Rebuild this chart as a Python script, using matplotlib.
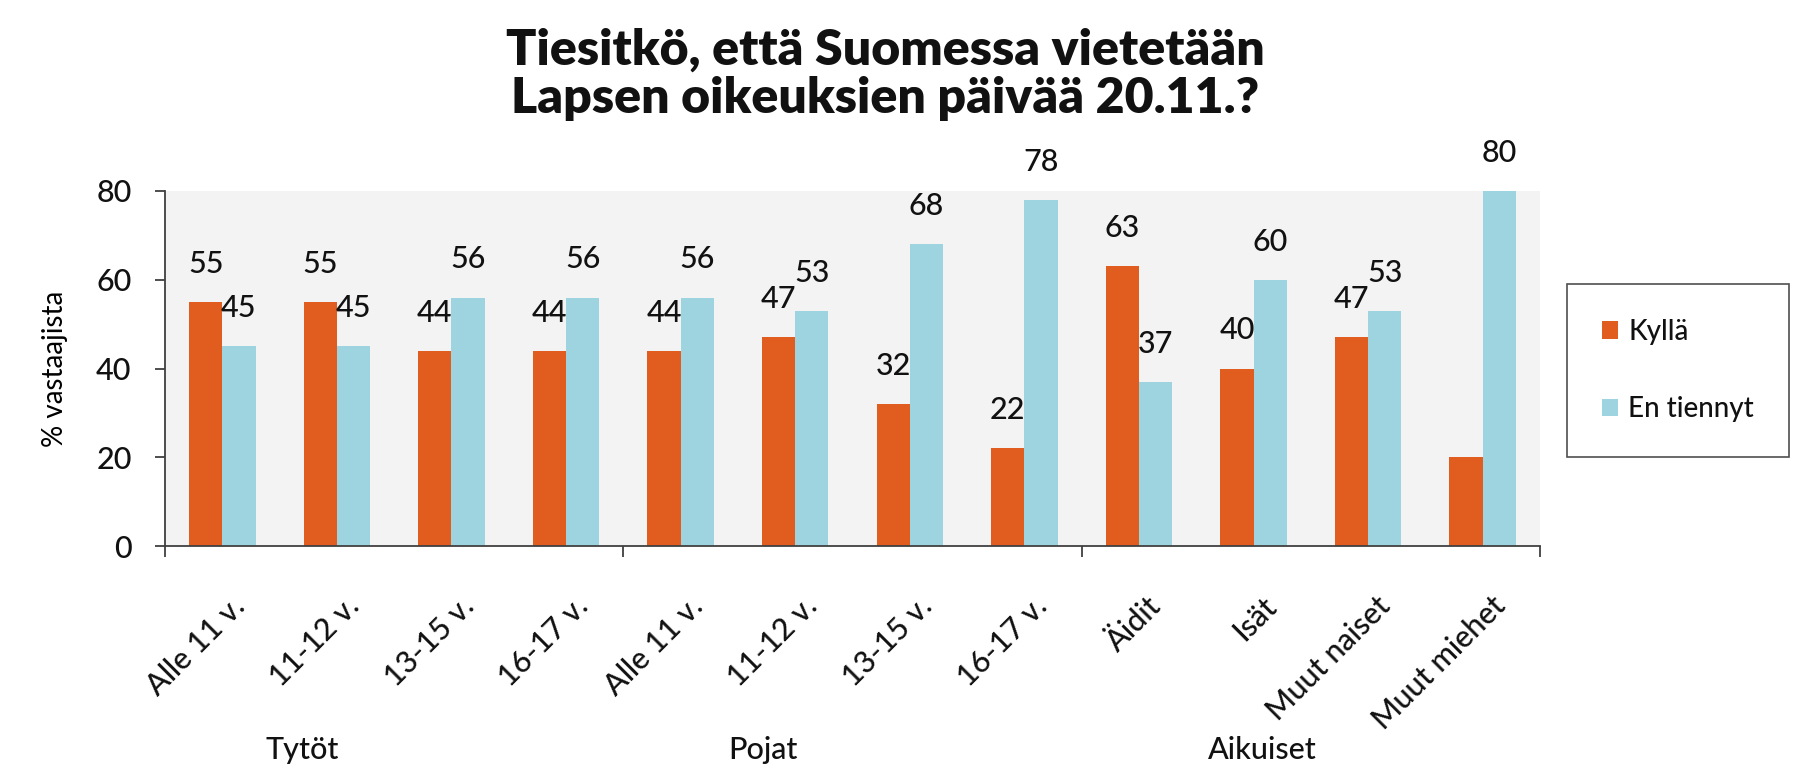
import matplotlib.pyplot as plt
from matplotlib.transforms import ScaledTranslation, blended_transform_factory

plt.rcParams['font.family'] = ['Lato', 'DejaVu Sans']
plt.rcParams['font.weight'] = 'medium'
plt.rcParams['text.color'] = '#111111'

# data
categories = ['Alle 11 v.', '11-12 v.', '13-15 v.', '16-17 v.',
              'Alle 11 v.', '11-12 v.', '13-15 v.', '16-17 v.',
              'Äidit', 'Isät', 'Muut naiset', 'Muut miehet']
groups = ['Tytöt', 'Pojat', 'Aikuiset']
group_sizes = [4, 4, 4]
kylla = [55, 55, 44, 44, 44, 47, 32, 22, 63, 40, 47, 20]
en_tiennyt = [45, 45, 56, 56, 56, 53, 68, 78, 37, 60, 53, 80]
kylla_hidden = [11]          # no value label for this bar in the original

orange = '#E15C1F'
blue = '#9DD4DF'

fig = plt.figure(figsize=(18.07, 7.78), dpi=100)
ax = fig.add_axes([165 / 1807, 1 - 546 / 778, 1375 / 1807, 355 / 778])
ax.set_facecolor('#F3F3F3')

w = 0.29
x = list(range(len(categories)))
b1 = ax.bar([i - w / 2 for i in x], kylla, w, color=orange, label='Kyllä', zorder=2)
b2 = ax.bar([i + w / 2 for i in x], en_tiennyt, w, color=blue, label='En tiennyt', zorder=2)

# value labels, a little above each bar
for i, v in enumerate(kylla):
    if i in kylla_hidden:
        continue
    ax.text(i - w / 2, v + 8.6, str(v), ha='center', va='center', fontsize=22)
for i, v in enumerate(en_tiennyt):
    ax.text(i + w / 2, v + 8.6, str(v), ha='center', va='center', fontsize=22, clip_on=False)

ax.set_xlim(-0.5, len(categories) - 0.5)
ax.set_ylim(0, 80)
ax.set_yticks([0, 20, 40, 60, 80])
ax.tick_params(axis='y', labelsize=22, length=7, width=1.3, color='#404040', pad=17,
               labelcolor='#111111')
ax.set_ylabel('% vastaajista', fontsize=20, labelpad=20)

# group separators as major ticks, category names as minor tick labels
bounds = [-0.5]
for s in group_sizes:
    bounds.append(bounds[-1] + s)
ax.set_xticks(bounds)
ax.set_xticklabels([])
ax.tick_params(axis='x', which='major', length=8, width=1.3, color='#404040')
ax.set_xticks(x, minor=True)
ax.set_xticklabels(categories, minor=True, rotation=45, ha='right', va='top',
                   rotation_mode='anchor', fontsize=22, color='#111111')
ax.tick_params(axis='x', which='minor', length=0, pad=33)
for lab in ax.get_xticklabels(minor=True):
    lab.set_transform(lab.get_transform() + ScaledTranslation(0.08, 0, fig.dpi_scale_trans))

for sp in ['top', 'right']:
    ax.spines[sp].set_visible(False)
for sp in ['left', 'bottom']:
    ax.spines[sp].set_color('#404040')
    ax.spines[sp].set_linewidth(1.3)

# group names under the category labels
group_pos = [0.70, 4.72, 9.08]
tr = blended_transform_factory(ax.transData, fig.transFigure)
for g, gx in zip(groups, group_pos):
    fig.text(gx, 1 - 750 / 778, g, transform=tr, ha='center', va='center', fontsize=22)

fig.text(885 / 1807, 1 - 65 / 778, 'Tiesitkö, että Suomessa vietetään',
         ha='center', va='baseline', fontsize=36, fontweight='heavy')
fig.text(885 / 1807, 1 - 113 / 778, 'Lapsen oikeuksien päivää 20.11.?',
         ha='center', va='baseline', fontsize=36, fontweight='heavy')

leg = fig.legend(handles=[b1, b2], loc='upper left',
                 bbox_to_anchor=(1567 / 1807, 1 - 284 / 778), fontsize=20,
                 frameon=True, fancybox=False, edgecolor='#222222',
                 handlelength=0.6, handleheight=0.6, handletextpad=0.35,
                 labelspacing=1.85, borderpad=1.25, borderaxespad=0)
leg.get_frame().set_linewidth(1.2)

fig.savefig('out.png', dpi=100)
